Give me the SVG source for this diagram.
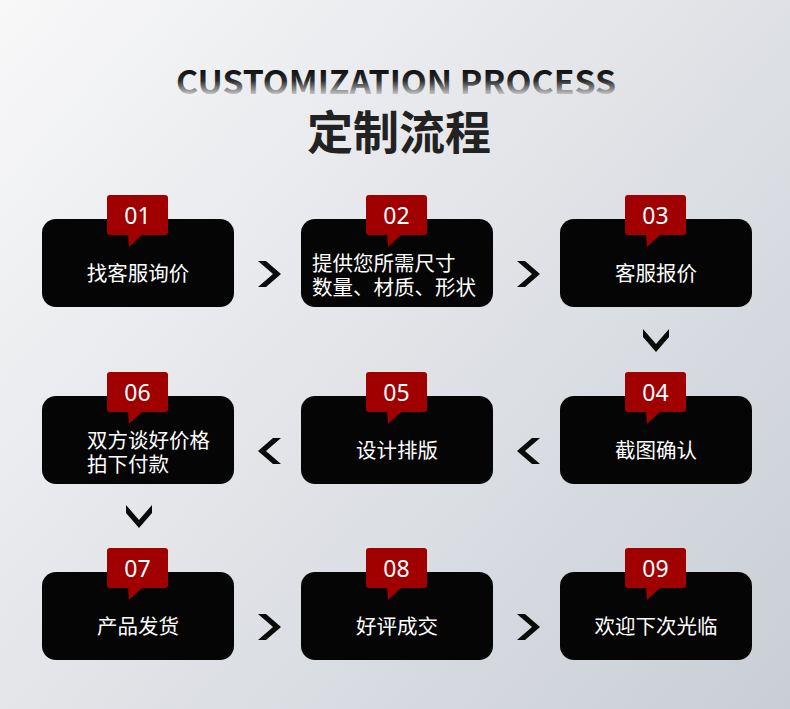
<svg xmlns="http://www.w3.org/2000/svg" width="790" height="709" viewBox="0 0 790 709">
<defs>
<linearGradient id="bg" x1="0" y1="0" x2="790" y2="709" gradientUnits="userSpaceOnUse">
<stop offset="0" stop-color="#f8f8f9"/>
<stop offset="0.5" stop-color="#e1e3e7"/>
<stop offset="1" stop-color="#c9ced6"/>
</linearGradient>
<linearGradient id="tg" x1="0" y1="70" x2="0" y2="96" gradientUnits="userSpaceOnUse">
<stop offset="0" stop-color="#111"/>
<stop offset="0.4" stop-color="#2a2a2a"/>
<stop offset="1" stop-color="#d8d8d8"/>
</linearGradient>
<style>
.box{fill:#050505}
.tag{fill:#a10000}
.num{font-family:"Noto Sans","Noto Sans CJK SC",sans-serif;font-size:23px;fill:#fff;text-anchor:middle}
.lbl{font-family:"Noto Sans CJK SC",sans-serif;font-size:20.5px;fill:#fff}
.c{text-anchor:middle}
.chev{fill:#0a0a0a}
</style>
</defs>
<rect width="790" height="709" fill="url(#bg)"/>
<text x="396" y="94" text-anchor="middle" font-family="Noto Sans CJK SC,sans-serif" font-weight="bold" font-size="32" fill="url(#tg)" textLength="440" lengthAdjust="spacingAndGlyphs">CUSTOMIZATION PROCESS</text>
<text x="399" y="149" text-anchor="middle" font-family="Noto Sans CJK SC,sans-serif" font-weight="bold" font-size="46" fill="#222">定制流程</text>

<g id="node1"><rect class="box" x="42" y="219" width="192" height="88" rx="14"/><rect class="tag" x="107" y="195" width="61" height="40" rx="3"/><polygon class="tag" points="128,234 143,234 129,247"/><text class="num" x="137.5" y="224">01</text><text class="lbl c" x="138" y="281">找客服询价</text></g>
<g id="node2"><rect class="box" x="301" y="219" width="192" height="88" rx="14"/><rect class="tag" x="366" y="195" width="61" height="40" rx="3"/><polygon class="tag" points="387,234 402,234 388,247"/><text class="num" x="396.5" y="224">02</text><text class="lbl"><tspan x="312" y="271">提供您所需尺寸</tspan><tspan x="312" y="295">数量、材质、形状</tspan></text></g>
<g id="node3"><rect class="box" x="560" y="219" width="192" height="88" rx="14"/><rect class="tag" x="625" y="195" width="61" height="40" rx="3"/><polygon class="tag" points="646,234 661,234 647,247"/><text class="num" x="655.5" y="224">03</text><text class="lbl c" x="656" y="281">客服报价</text></g>
<g id="node4"><rect class="box" x="560" y="396" width="192" height="88" rx="14"/><rect class="tag" x="625" y="372" width="61" height="40" rx="3"/><polygon class="tag" points="646,411 661,411 647,424"/><text class="num" x="655.5" y="401">04</text><text class="lbl c" x="656" y="458">截图确认</text></g>
<g id="node5"><rect class="box" x="301" y="396" width="192" height="88" rx="14"/><rect class="tag" x="366" y="372" width="61" height="40" rx="3"/><polygon class="tag" points="387,411 402,411 388,424"/><text class="num" x="396.5" y="401">05</text><text class="lbl c" x="397" y="458">设计排版</text></g>
<g id="node6"><rect class="box" x="42" y="396" width="192" height="88" rx="14"/><rect class="tag" x="107" y="372" width="61" height="40" rx="3"/><polygon class="tag" points="128,411 143,411 129,424"/><text class="num" x="137.5" y="401">06</text><text class="lbl"><tspan x="87" y="448">双方谈好价格</tspan><tspan x="87" y="472">拍下付款</tspan></text></g>
<g id="node7"><rect class="box" x="42" y="572" width="192" height="88" rx="14"/><rect class="tag" x="107" y="548" width="61" height="40" rx="3"/><polygon class="tag" points="128,587 143,587 129,600"/><text class="num" x="137.5" y="577">07</text><text class="lbl c" x="138" y="634">产品发货</text></g>
<g id="node8"><rect class="box" x="301" y="572" width="192" height="88" rx="14"/><rect class="tag" x="366" y="548" width="61" height="40" rx="3"/><polygon class="tag" points="387,587 402,587 388,600"/><text class="num" x="396.5" y="577">08</text><text class="lbl c" x="397" y="634">好评成交</text></g>
<g id="node9"><rect class="box" x="560" y="572" width="192" height="88" rx="14"/><rect class="tag" x="625" y="548" width="61" height="40" rx="3"/><polygon class="tag" points="646,587 661,587 647,600"/><text class="num" x="655.5" y="577">09</text><text class="lbl c" x="656" y="634">欢迎下次光临</text></g>

<g id="connectors">
<polygon class="chev" transform="translate(258,261)" points="0,0 8,0 23,13 8,26 0,26 15,13"/>
<polygon class="chev" transform="translate(517,261)" points="0,0 8,0 23,13 8,26 0,26 15,13"/>
<polygon class="chev" transform="translate(643,329)" points="0,0 13,15 26,0 26,8 13,23 0,8"/>
<polygon class="chev" transform="translate(517,438)" points="23,0 15,0 0,13 15,26 23,26 8,13"/>
<polygon class="chev" transform="translate(258,438)" points="23,0 15,0 0,13 15,26 23,26 8,13"/>
<polygon class="chev" transform="translate(126,505)" points="0,0 13,15 26,0 26,8 13,23 0,8"/>
<polygon class="chev" transform="translate(258,614)" points="0,0 8,0 23,13 8,26 0,26 15,13"/>
<polygon class="chev" transform="translate(517,614)" points="0,0 8,0 23,13 8,26 0,26 15,13"/>
</g>
</svg>
